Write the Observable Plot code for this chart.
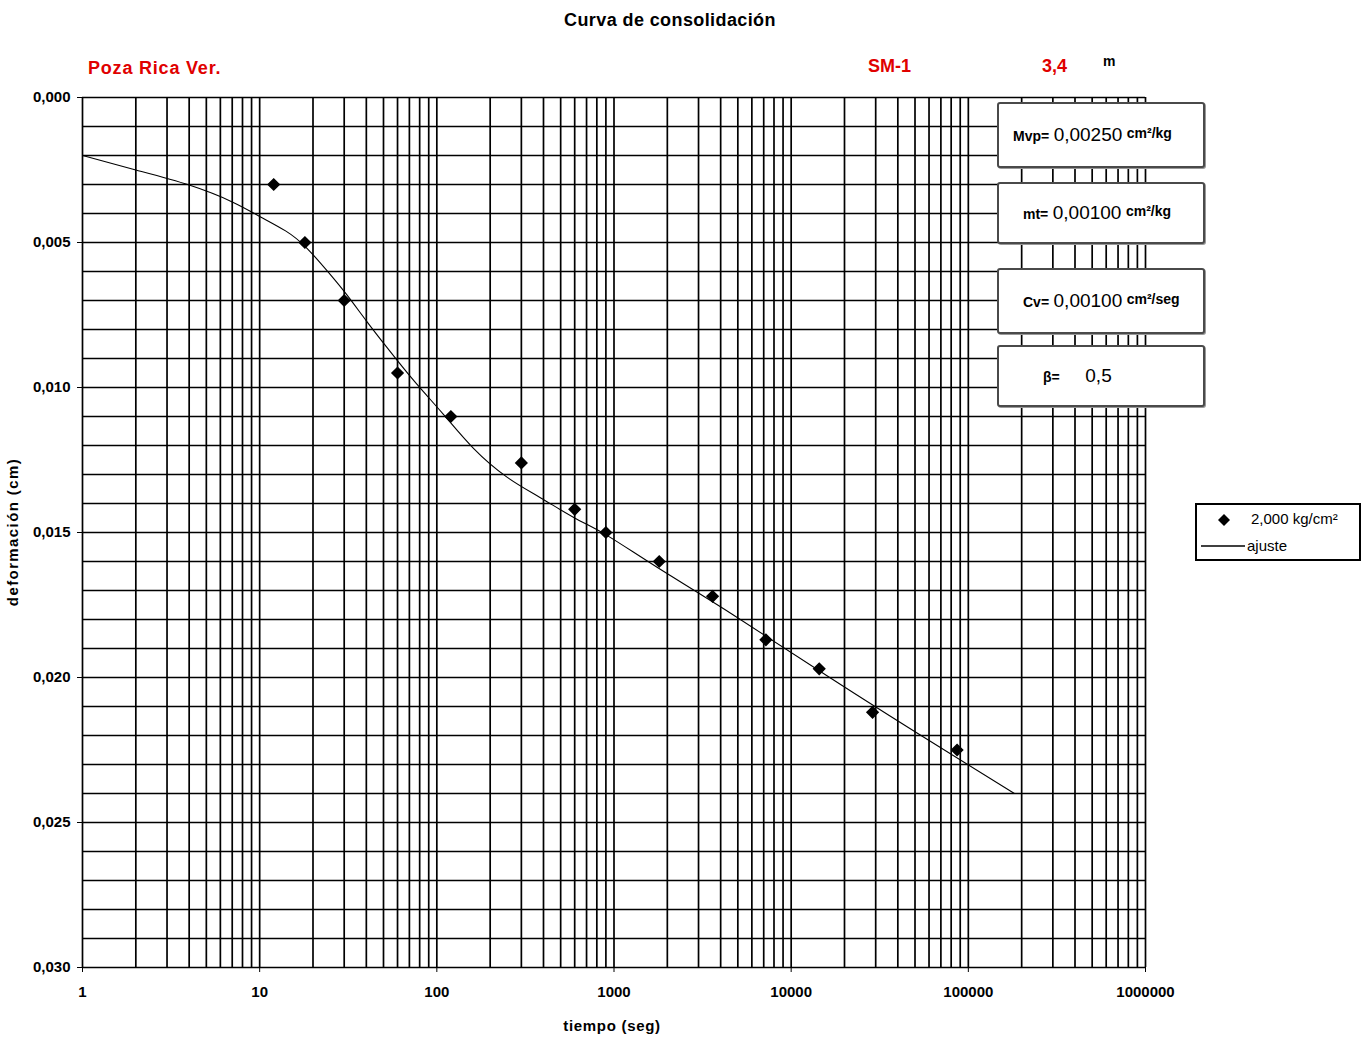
<!DOCTYPE html>
<html>
<head>
<meta charset="utf-8">
<script src="https://cdn.jsdelivr.net/npm/d3@7"></script>
<script src="https://cdn.jsdelivr.net/npm/@observablehq/plot@0.6"></script>
<style>
  html, body { margin: 0; padding: 0; background: #fff; }
  #wrap { position: relative; width: 1368px; height: 1042px; font-family: "Liberation Sans", Arial, sans-serif; }
  .ov { position: absolute; white-space: nowrap; }
  .box { position: absolute; background: #fff; border: 2px solid #4a4a4a; border-radius: 3px; box-shadow: 1px 1px 0 #999; box-sizing: border-box; }
  .box .in { position: absolute; top: 50%; transform: translateY(-50%); white-space: nowrap; }
  .lab { font-weight: bold; font-size: 14px; }
  .val { font-size: 19px; }
  .unit { font-weight: bold; font-size: 14px; vertical-align: 3px; }
</style>
</head>
<body>
<div id="wrap"></div>
<script>
// ---- data ----
const title = "Curva de consolidación";
const place = "Poza Rica Ver.";
const sondeo = "SM-1";
const depth = "3,4";
const depthUnit = "m";

// measured points: tiempo (seg), deformación (cm) at 2,000 kg/cm²
const tPts = [12, 18, 30, 60, 120, 300, 600, 900, 1800, 3600, 7200, 14400, 28800, 86400];
const dPts = [0.0030, 0.0050, 0.0070, 0.0095, 0.0110, 0.0126, 0.0142, 0.0150, 0.0160, 0.0172, 0.0187, 0.0197, 0.0212, 0.0225];

// fitted curve "ajuste"
const tFit = [1, 2, 4, 7, 10, 14, 18.5, 25, 31, 40, 52, 75, 108, 161, 250, 384, 600, 912, 1750, 4600, 16500, 61000, 182000];
const dFit = [0.0020, 0.0025, 0.00302, 0.0036, 0.0041, 0.0046, 0.0052, 0.0061, 0.0068, 0.0077, 0.0086, 0.0098, 0.0109, 0.0121, 0.0131, 0.0138, 0.0145, 0.0151, 0.0162, 0.0178, 0.0200, 0.0222, 0.0240];

const xTicks = [1, 10, 100, 1000, 10000, 100000, 1000000];
const yTicks = [0, 0.005, 0.010, 0.015, 0.020, 0.025, 0.030];

const params = [
  {lab: "Mvp=", val: "0,00250", unit: "cm²/kg"},
  {lab: "mt=", val: "0,00100", unit: "cm²/kg"},
  {lab: "Cv=", val: "0,00100", unit: "cm²/seg"},
  {lab: "β=", val: "0,5", unit: ""}
];
const seriesName = "2,000 kg/cm²";
const fitName = "ajuste";

// ---- build ----
const pts = tPts.map((t, i) => ({t, d: dPts[i]}));
const fit = tFit.map((t, i) => ({t, d: dFit[i]}));
const xGrid = [];
for (let k = 0; k < 6; k++) for (let m = 1; m <= 9; m++) xGrid.push(m * Math.pow(10, k));
xGrid.push(1e6);
const yGrid = d3.range(0, 31).map(i => i / 1000);

const fmtY = d => d.toFixed(3).replace(".", ",");

const chart = Plot.plot({
  width: 1368,
  height: 1042,
  marginLeft: 82,
  marginRight: 223,
  marginTop: 97,
  marginBottom: 75,
  style: {fontFamily: "Liberation Sans, Arial, sans-serif", fontSize: "15px", color: "#000", background: "#fff"},
  x: {type: "log", domain: [1, 1e6]},
  y: {domain: [0, 0.030], reverse: true},
  marks: [
    Plot.ruleX(xGrid, {stroke: "#000", strokeWidth: 1.7}),
    Plot.ruleY(yGrid, {stroke: "#000", strokeWidth: 1.7}),
    Plot.axisX({ticks: xTicks, tickFormat: d => String(d), tickSize: 5, tickPadding: 14, label: null, fontWeight: "bold"}),
    Plot.axisY({ticks: yTicks, tickFormat: fmtY, tickSize: 5, tickPadding: 7, label: null, fontWeight: "bold"}),
    Plot.line(fit, {x: "t", y: "d", curve: "natural", stroke: "#000", strokeWidth: 1.1}),
    Plot.dot(pts, {x: "t", y: "d", symbol: "diamond2", fill: "#000", stroke: "#000", r: 5})
  ]
});

const wrap = document.getElementById("wrap");
wrap.appendChild(chart);

function ov(html, css) {
  const d = document.createElement("div");
  d.className = "ov";
  d.innerHTML = html;
  Object.assign(d.style, css);
  wrap.appendChild(d);
  return d;
}

ov(title, {left: "670px", top: "10px", transform: "translateX(-50%)", fontWeight: "bold", fontSize: "18px", letterSpacing: "0.4px"});
ov(place, {left: "88px", top: "58px", fontWeight: "bold", fontSize: "18px", color: "#e00000", letterSpacing: "0.8px"});
ov(sondeo, {left: "868px", top: "56px", fontWeight: "bold", fontSize: "18px", color: "#e00000"});
ov(depth, {left: "1042px", top: "56px", fontWeight: "bold", fontSize: "18px", color: "#e00000"});
ov(depthUnit, {left: "1103px", top: "53px", fontWeight: "bold", fontSize: "14px"});
ov("deformación (cm)", {left: "12px", top: "532px", transform: "translate(-50%,-50%) rotate(-90deg)", fontWeight: "bold", fontSize: "15px", letterSpacing: "1.4px"});
ov("tiempo (seg)", {left: "612px", top: "1025px", transform: "translate(-50%,-50%)", fontWeight: "bold", fontSize: "15px", letterSpacing: "0.7px"});

// parameter boxes
const boxPos = [[102, 168, 1013], [182, 244, 1023], [268, 334, 1023], [345, 407, 1043]];
params.forEach((p, i) => {
  const [t, b, lx] = boxPos[i];
  const box = document.createElement("div");
  box.className = "box";
  Object.assign(box.style, {left: "997px", top: t + "px", width: "208px", height: (b - t) + "px"});
  const inner = document.createElement("div");
  inner.className = "in";
  inner.style.left = (lx - 999) + "px";
  inner.innerHTML = `<span class="lab">${p.lab}</span> <span class="val">${i === 3 ? "&nbsp;&nbsp;&nbsp;&nbsp;" : ""}${p.val}</span>${p.unit ? ` <span class="unit">${p.unit}</span>` : ""}`;
  box.appendChild(inner);
  wrap.appendChild(box);
});

// legend
const leg = document.createElement("div");
Object.assign(leg.style, {position: "absolute", left: "1195px", top: "503px", width: "166px", height: "58px", border: "2px solid #000", boxSizing: "border-box", background: "#fff"});
leg.innerHTML = `
<svg width="162" height="54" style="position:absolute;left:0;top:0">
  <path d="M${27},${9} l6,6 l-6,6 l-6,-6 z" fill="#000"/>
  <line x1="4" y1="41" x2="48" y2="41" stroke="#000" stroke-width="1.4"/>
  <text x="54" y="19" font-size="15" font-family="Liberation Sans, Arial, sans-serif">${seriesName}</text>
  <text x="50" y="46" font-size="15" font-family="Liberation Sans, Arial, sans-serif">${fitName}</text>
</svg>`;
wrap.appendChild(leg);
</script>
</body>
</html>
